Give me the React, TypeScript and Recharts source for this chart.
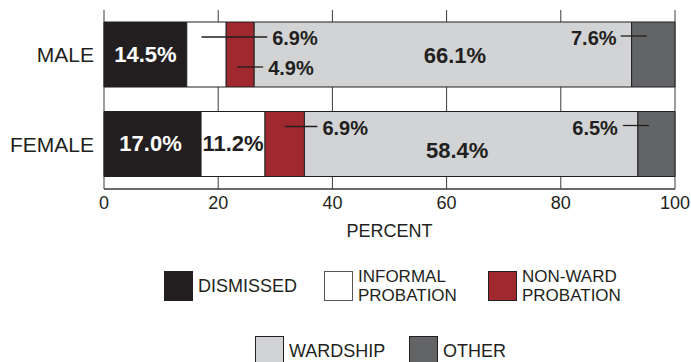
import React from 'react';
import { BarChart, Bar, XAxis, YAxis, CartesianGrid, LabelList } from 'recharts';

const categories = ['MALE', 'FEMALE'];
const dismissed = [14.5, 17.0];
const informal = [6.9, 11.2];
const nonWard = [4.9, 6.9];
const wardship = [66.1, 58.4];
const other = [7.6, 6.5];
const xTicks = [0, 20, 40, 60, 80, 100];
const axisTitle = 'PERCENT';

const seriesKeys = ['dismissed', 'informal', 'nonWard', 'wardship', 'other'];
const seriesLabels = [['DISMISSED'], ['INFORMAL', 'PROBATION'], ['NON-WARD', 'PROBATION'], ['WARDSHIP'], ['OTHER']];
const seriesColors = ['#231f20', '#ffffff', '#a0292f', '#d1d3d4', '#636466'];

const data = categories.map((c, i) => ({
  group: c,
  dismissed: dismissed[i],
  informal: informal[i],
  nonWard: nonWard[i],
  wardship: wardship[i],
  other: other[i],
}));

const FONT = '"Liberation Sans", Arial, Helvetica, sans-serif';
const INK = '#231f20';

// label styling per series/category
const labelStyle: Record<string, any> = {
  'dismissed-0': { kind: 'inside', fill: '#ffffff', dx: 0, dy: 0, size: 22 },
  'dismissed-1': { kind: 'inside', fill: '#ffffff', dx: -2, dy: -1, size: 22 },
  'informal-0': { kind: 'right', startDx: -5, endDx: 41, dy: 15 },
  'informal-1': { kind: 'inside', fill: INK, dx: 0, dy: -1, size: 22 },
  'nonWard-0': { kind: 'right', startDx: -3, endDx: 9, dy: 45 },
  'nonWard-1': { kind: 'right', startDx: 0, endDx: 13, dy: 15 },
  'wardship-0': { kind: 'inside', fill: INK, dx: 12, dy: 1, size: 22 },
  'wardship-1': { kind: 'inside', fill: INK, dx: -14, dy: 6, size: 22 },
  'other-0': { kind: 'left', startDx: 15, endDx: -11, dy: 14, gap: 4 },
  'other-1': { kind: 'left', startDx: 11, endDx: -15, dy: 14, gap: 5 },
};

const makeLabel = (key: string) => (props: any) => {
  const vb = props.viewBox || {};
  const x = Number(props.x ?? vb.x);
  const y = Number(props.y ?? vb.y);
  const w = Number(props.width ?? vb.width);
  const h = Number(props.height ?? vb.height);
  const idx = props.index;
  const cfg = labelStyle[`${key}-${idx}`];
  if (!cfg) return null;
  const txt = `${Number(props.value).toFixed(1)}%`;
  if (cfg.kind === 'inside') {
    return (
      <text
        x={x + w / 2 + cfg.dx}
        y={y + h / 2 + cfg.dy}
        textAnchor="middle"
        dominantBaseline="central"
        fill={cfg.fill}
        fontFamily={FONT}
        fontWeight="bold"
        fontSize={cfg.size}
      >
        {txt}
      </text>
    );
  }
  if (cfg.kind === 'right') {
    const x1 = x + w / 2 + cfg.startDx;
    const x2 = x + w + cfg.endDx;
    const ly = y + cfg.dy;
    return (
      <g>
        <line x1={x1} x2={x2} y1={ly} y2={ly} stroke={INK} strokeWidth={1.3} />
        <text x={x2 + 5} y={ly + 1} textAnchor="start" dominantBaseline="central" fill={INK}
          fontFamily={FONT} fontWeight="bold" fontSize={20}>{txt}</text>
      </g>
    );
  }
  const x1 = x + cfg.startDx;
  const x2 = x + cfg.endDx;
  const ly = y + cfg.dy;
  return (
    <g>
      <line x1={x1} x2={x2} y1={ly} y2={ly} stroke={INK} strokeWidth={1.3} />
      <text x={x2 - cfg.gap} y={ly + 2} textAnchor="end" dominantBaseline="central" fill={INK}
        fontFamily={FONT} fontWeight="bold" fontSize={20}>{txt}</text>
    </g>
  );
};

const legendPos = [
  { left: 164, top: 271 },
  { left: 324, top: 271 },
  { left: 488, top: 271 },
  { left: 255, top: 336 },
  { left: 409, top: 336 },
];

export default function App() {
  return (
    <div style={{ position: 'absolute', left: 0, top: 0, width: 691, height: 362, background: '#fff', overflow: 'hidden', fontFamily: FONT }}>
      <BarChart
        width={691}
        height={362}
        data={data}
        layout="vertical"
        margin={{ top: 10, right: 16, bottom: 123, left: 0 }}
        barSize={65}
      >
        <CartesianGrid horizontal={false} vertical={true} stroke="#3a3a3a" strokeWidth={1} />
        <XAxis
          type="number"
          domain={[0, 100]}
          ticks={xTicks}
          interval={0}
          height={50}
          tickSize={0}
          tickMargin={7}
          axisLine={{ stroke: '#3a3a3a', strokeWidth: 1.3 }}
          tickLine={false}
          tick={{ fill: INK, fontSize: 18, fontFamily: FONT }}
          label={{ value: axisTitle, position: 'insideBottom', offset: 2, fill: INK, fontSize: 18, fontFamily: FONT }}
        />
        <XAxis
          xAxisId="top"
          orientation="top"
          type="number"
          domain={[0, 100]}
          height={0}
          tick={false}
          tickLine={false}
          axisLine={{ stroke: '#3a3a3a', strokeWidth: 1.3 }}
        />
        <YAxis
          type="category"
          dataKey="group"
          width={104}
          axisLine={false}
          tickLine={false}
          tickSize={0}
          tickMargin={10}
          tick={{ fill: INK, fontSize: 21, fontFamily: FONT }}
        />
        {seriesKeys.map((k, i) => (
          <Bar
            key={k}
            dataKey={k}
            stackId="a"
            fill={seriesColors[i]}
            stroke={INK}
            strokeWidth={1}
            isAnimationActive={false}
          >
            <LabelList dataKey={k} content={makeLabel(k)} />
          </Bar>
        ))}
      </BarChart>
      {seriesKeys.map((k, i) => (
        <div key={k} style={{ position: 'absolute', left: legendPos[i].left, top: legendPos[i].top, height: 30, display: 'flex', alignItems: 'center' }}>
          <div style={{ width: 29, height: 30, flexShrink: 0, boxSizing: 'border-box', border: `1px solid ${i === 1 ? '#555' : INK}`, background: seriesColors[i] }} />
          <div style={{ marginLeft: 5, fontSize: seriesLabels[i].length > 1 ? 17 : 18, lineHeight: seriesLabels[i].length > 1 ? '19px' : '20px', color: INK, fontFamily: FONT, whiteSpace: 'nowrap' }}>
            {seriesLabels[i].map((ln) => (<div key={ln}>{ln}</div>))}
          </div>
        </div>
      ))}
    </div>
  );
}
